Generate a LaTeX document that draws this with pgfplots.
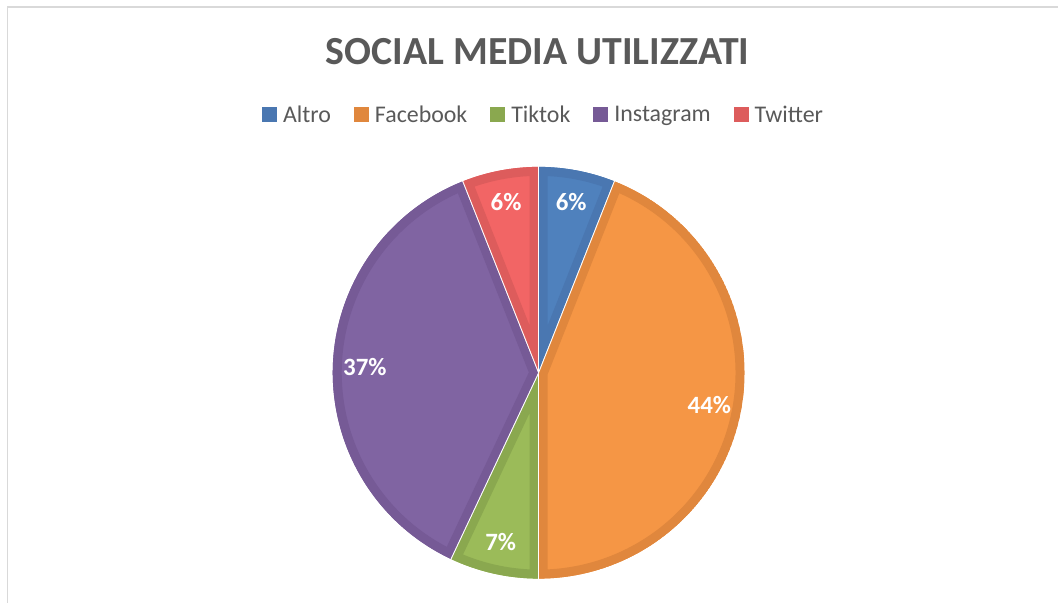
\documentclass[border=0pt]{standalone}
\usepackage{pgfplots}
\pgfplotsset{compat=1.18}
\usepackage{pgfplotstable}
\usepackage{fontspec}
\setmainfont{Carlito}
\definecolor{txt}{HTML}{595959}
\definecolor{frame}{HTML}{D9D9D9}
\definecolor{bluD}{HTML}{4A77B1}
\definecolor{bluL}{HTML}{4F81BD}
\definecolor{orD}{HTML}{E0873D}
\definecolor{orL}{HTML}{F59645}
\definecolor{grD}{HTML}{8AA84F}
\definecolor{grL}{HTML}{9BBB59}
\definecolor{puD}{HTML}{765A96}
\definecolor{puL}{HTML}{8064A2}
\definecolor{reD}{HTML}{DD5C5C}
\definecolor{reL}{HTML}{F26565}

\pgfplotstableread{
label value
Altro 6
Facebook 44
Tiktok 7
Instagram 37
Twitter 6
}\piedata

\begin{document}
\begin{tikzpicture}
\begin{axis}[
  scale only axis, width=1059bp, height=603bp,
  xmin=0, xmax=1059, ymin=0, ymax=603,
  hide axis, clip=false,
  legend columns=5,
  legend style={at={(axis cs:544,488)}, anchor=center, draw=none, fill=none,
    font=\fontsize{24}{28}\selectfont, text=txt,
    /tikz/every even column/.append style={column sep=21bp}},
  legend image code/.code={\path[#1,draw=none] (0bp,-7.5bp) rectangle (15bp,7.5bp); \path[draw=none,fill=none] (0bp,0bp) -- (19bp,0bp);},
]
\addlegendimage{fill=bluD}\addlegendentry{Altro}
\addlegendimage{fill=orD}\addlegendentry{Facebook}
\addlegendimage{fill=grD}\addlegendentry{Tiktok}
\addlegendimage{fill=puD}\addlegendentry{Instagram}
\addlegendimage{fill=reD}\addlegendentry{Twitter}
\pgfplotsextra{
  \path (axis cs:0,0) rectangle (axis cs:1059,603);
  \draw[frame, line width=1.5bp] (axis cs:7.5,0) -- (axis cs:7.5,596) -- (axis cs:1059,596);
  \node[text=txt, font=\fontsize{40}{46}\selectfont\bfseries] at (axis cs:538,551) {SOCIAL MEDIA UTILIZZATI};
  \coordinate (C) at (axis cs:539,230);
  \gdef\startang{90}
  \foreach \i/\fc/\dc in {0/bluL/bluD,1/orL/orD,2/grL/grD,3/puL/puD,4/reL/reD}{
    \pgfplotstablegetelem{\i}{value}\of\piedata
    \let\val\pgfplotsretval
    \pgfmathsetmacro\endang{\startang-3.6*\val}
    \pgfmathsetmacro\midang{(\startang+\endang)/2}
    \begin{scope}
      \clip (C) -- ++(\startang:206bp) arc[start angle=\startang, end angle=\endang, radius=206bp] -- cycle;
      \filldraw[fill=\fc, draw=\dc, line width=18bp, line join=round]
        (C) -- ++(\startang:206bp) arc[start angle=\startang, end angle=\endang, radius=206bp] -- cycle;
    \end{scope}
    \draw[white, line width=0.8bp] (C) -- ++(\startang:207bp);
    \draw[white, line width=0.8bp] (C) -- ++(\endang:207bp);
    \node[text=white, font=\fontsize{25}{29}\selectfont\bfseries] at ([shift={(\midang:174bp)}]C) {\val\%};
    \xdef\startang{\endang}
  }
}
\end{axis}
\end{tikzpicture}
\end{document}
